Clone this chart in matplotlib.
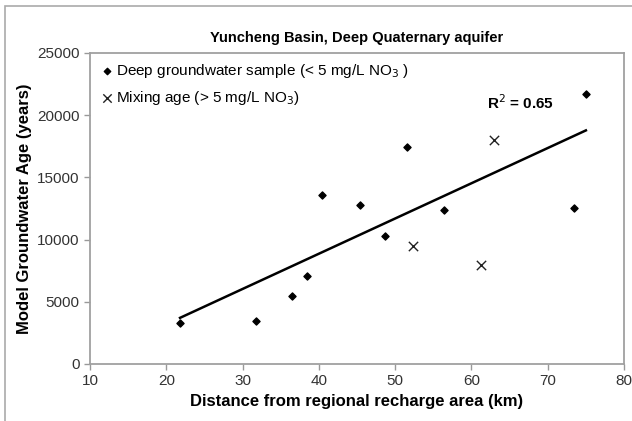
import numpy as np
import matplotlib
matplotlib.use('Agg')
import matplotlib.pyplot as plt
from matplotlib.patches import Rectangle

plt.rcParams['font.family'] = ['Liberation Sans Narrow', 'Liberation Sans', 'DejaVu Sans']

# 数据：深层地下水样品 (< 5 mg/L NO3)
deep_dist = [21.8, 31.8, 36.5, 38.4, 40.4, 45.4, 48.7, 51.6, 56.4, 73.4, 75.0]
deep_age = [3300, 3450, 5500, 7050, 13600, 12750, 10300, 17400, 12400, 12500, 21700]

# 混合年龄 (> 5 mg/L NO3)
mix_dist = [52.4, 61.2, 62.9]
mix_age = [9500, 7950, 18000]

x_ticks = [10, 20, 30, 40, 50, 60, 70, 80]
y_ticks = [0, 5000, 10000, 15000, 20000, 25000]

# 线性拟合（只用深层样品）
slope, intercept = np.polyfit(deep_dist, deep_age, 1)
pred = slope * np.array(deep_dist) + intercept
r2 = 1 - np.sum((np.array(deep_age) - pred) ** 2) / np.sum((np.array(deep_age) - np.mean(deep_age)) ** 2)
fit_x = np.array([min(deep_dist), max(deep_dist)])

fig = plt.figure(figsize=(6.32, 4.21), dpi=100)
ax = fig.add_axes([0.1424, 0.1354, 0.845, 0.739])

# 外框
fig.patches.append(Rectangle((5 / 632, -0.1), 1.2, 1 - 6 / 421 + 0.1, transform=fig.transFigure,
                             fill=False, edgecolor='#aaaaaa', linewidth=1.2))

ax.scatter(deep_dist, deep_age, marker='D', s=13, color='black', zorder=3,
           label='Deep groundwater sample (< 5 mg/L NO$_3$ )')
ax.scatter(mix_dist, mix_age, marker='x', s=45, color='#222222', linewidths=1.0, zorder=3,
           label='Mixing age (> 5 mg/L NO$_3$)')
ax.plot(fit_x, slope * fit_x + intercept, color='black', linewidth=1.8, zorder=2)

ax.set_xlim(10, 80)
ax.set_ylim(0, 25000)
ax.set_xticks(x_ticks)
ax.set_yticks(y_ticks)
ax.tick_params(axis='both', labelsize=11, colors='#999999', labelcolor='#333333', length=4, width=1)
for sp in ax.spines.values():
    sp.set_color('#a0a0a0')
    sp.set_linewidth(1.3)

ax.set_title('Yuncheng Basin, Deep Quaternary aquifer', fontsize=10.5, fontweight='bold', pad=8)
ax.set_xlabel('Distance from regional recharge area (km)', fontsize=12, fontweight='bold', labelpad=4)
ax.set_ylabel('Model Groundwater Age (years)', fontsize=12, fontweight='bold', labelpad=4)

ax.text(62.0, 20980, 'R$^2$ = %.2f' % r2, fontsize=11, fontweight='bold', va='center')

ax.legend(loc='upper left', frameon=False, fontsize=11, handletextpad=0.1, handlelength=1.0,
          borderaxespad=0.3, labelspacing=0.6, markerscale=0.9, borderpad=0.3)

fig.savefig('out.png', dpi=100)
